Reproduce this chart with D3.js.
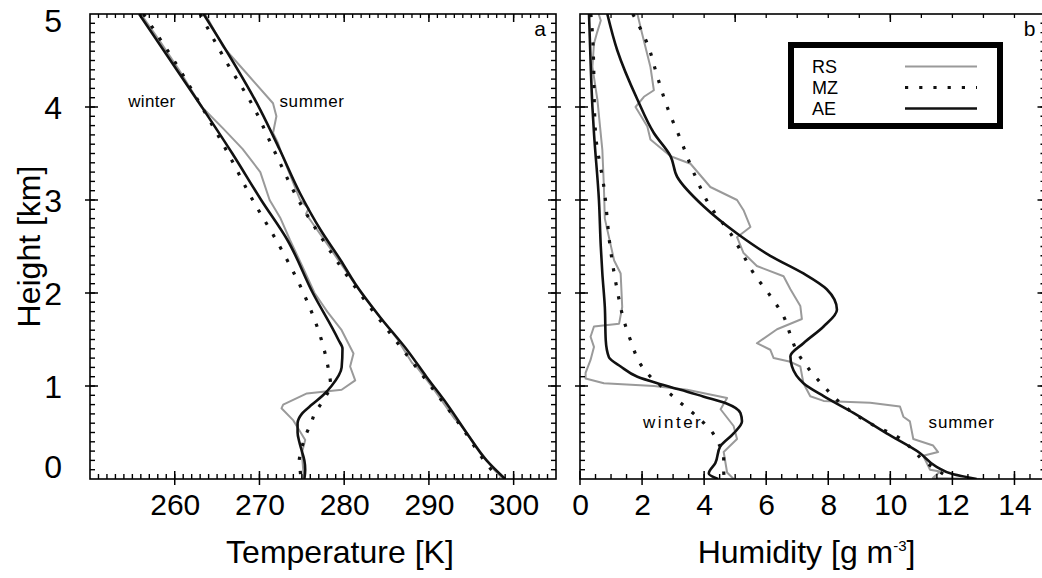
<!DOCTYPE html>
<html>
<head>
<meta charset="utf-8">
<script src="https://cdn.jsdelivr.net/npm/d3@7"></script>
<style>
  html, body { margin: 0; padding: 0; background: #fff; }
  svg { display: block; }
  text { font-family: "Liberation Sans", Arial, Helvetica, sans-serif; fill: #000; }
</style>
</head>
<body>
<svg id="chart" width="1042" height="578"></svg>
<script>
// ---------------- DATA ([value, height km]) ----------------
// Panel a: Temperature [K]
const tempWinterRS = [[256.0,5.0],[258.3,4.7],[260.5,4.4],[263.2,4.0],[265.7,3.77],[268.0,3.55],[270.1,3.3],[271.2,3.0],[272.5,2.8],[273.6,2.57],[275.0,2.3],[276.5,2.0],[278.0,1.8],[279.7,1.6],[281.1,1.35],[280.7,1.21],[281.3,1.06],[279.7,0.96],[275.6,0.92],[272.8,0.80],[272.6,0.76],[274.0,0.63],[275.4,0.42],[275.0,0.28],[275.2,0.06],[275.0,0.0]];
const tempWinterMZ = [[256.3,5.0],[260.6,4.4],[263.2,4.0],[266.3,3.5],[269.2,3.0],[272.4,2.5],[275.2,2.0],[277.3,1.5],[278.1,1.2],[278.4,1.0],[277.9,0.9],[277.2,0.8],[276.5,0.7],[276.1,0.6],[275.6,0.5],[275.2,0.4],[274.9,0.3],[274.7,0.2],[274.8,0.1],[274.9,0.0]];
const tempWinterAE = [[255.8,5.0],[259.5,4.5],[263.2,4.0],[266.8,3.5],[270.2,3.0],[273.3,2.57],[276.3,2.0],[279.3,1.5],[279.8,1.4],[279.7,1.2],[278.5,1.0],[277.5,0.9],[276.2,0.8],[275.0,0.7],[274.5,0.6],[274.5,0.5],[274.7,0.4],[275.0,0.3],[275.3,0.2],[275.4,0.1],[275.3,0.0]];
const tempSummerRS = [[263.6,5.0],[265.7,4.65],[268.5,4.36],[271.6,4.04],[272.0,3.90],[271.6,3.72],[272.2,3.61],[272.6,3.50],[274.8,3.0],[275.8,2.91],[275.5,2.85],[278.2,2.5],[282.0,2.0],[286.3,1.5],[288.0,1.25],[288.6,1.2],[290.3,1.0],[293.0,0.65],[293.6,0.6],[296.0,0.3],[297.7,0.1],[298.8,0.0]];
const tempSummerMZ = [[263.0,5.0],[266.0,4.5],[269.3,4.0],[271.9,3.5],[274.6,3.0],[278.0,2.5],[281.8,2.0],[286.0,1.5],[290.2,1.0],[294.3,0.5],[296.5,0.2],[298.3,0.0]];
const tempSummerAE = [[263.4,5.0],[270.1,3.97],[272.4,3.54],[274.8,3.07],[277.2,2.68],[279.6,2.35],[281.3,2.10],[284.2,1.745],[287.4,1.39],[289.7,1.10],[292.1,0.81],[294.5,0.49],[296.8,0.20],[299.0,0.0]];

// Panel b: Humidity [g m^-3]
const humWinterRS = [[0.60,5.0],[0.67,4.93],[0.55,4.80],[0.45,4.68],[0.40,4.43],[0.56,4.08],[0.72,3.54],[0.77,3.14],[0.80,2.8],[1.10,2.35],[1.31,2.21],[1.36,1.85],[1.26,1.67],[0.45,1.64],[0.34,1.53],[0.45,1.42],[0.34,1.28],[0.18,1.14],[0.18,1.08],[0.77,1.03],[2.38,1.0],[3.45,0.96],[4.74,0.87],[4.53,0.75],[4.95,0.57],[5.06,0.43],[4.63,0.29],[4.74,0.07],[4.95,0.0]];
const humWinterMZ = [[0.35,5.0],[0.40,4.79],[0.50,3.72],[0.77,3.14],[0.99,2.45],[1.20,2.03],[1.41,1.71],[1.63,1.49],[2.00,1.21],[2.33,1.08],[2.70,0.975],[3.13,0.85],[3.77,0.67],[4.20,0.53],[4.47,0.38],[4.63,0.24],[4.63,0.10],[4.65,0.0]];
const humWinterAE = [[0.29,5.0],[0.34,4.5],[0.40,4.0],[0.45,3.72],[0.61,3.0],[0.67,2.5],[0.72,2.21],[0.80,1.85],[0.83,1.49],[0.93,1.31],[1.31,1.21],[1.85,1.10],[2.49,1.03],[3.24,0.96],[3.99,0.885],[4.74,0.81],[5.17,0.71],[5.22,0.62],[4.95,0.49],[4.52,0.35],[4.36,0.17],[4.15,0.06],[4.45,0.0]];
const humSummerRS = [[1.85,5.0],[2.00,4.79],[2.27,4.43],[2.38,4.18],[2.06,4.11],[1.79,4.0],[2.17,3.79],[2.27,3.65],[2.92,3.47],[3.56,3.39],[4.20,3.14],[5.06,3.0],[5.27,2.89],[5.49,2.71],[5.06,2.6],[5.27,2.43],[5.70,2.29],[6.56,2.18],[6.78,2.04],[7.10,1.86],[7.15,1.72],[6.35,1.61],[5.70,1.46],[6.13,1.39],[6.24,1.30],[6.78,1.26],[7.10,1.21],[7.20,1.03],[7.42,0.89],[7.85,0.84],[9.35,0.82],[10.31,0.78],[10.42,0.67],[10.63,0.62],[10.74,0.43],[11.38,0.36],[11.54,0.29],[11.06,0.25],[11.28,0.1],[11.60,0.08],[11.37,0.01],[12.90,0.0]];
const humSummerMZ = [[1.70,5.0],[2.17,4.68],[2.49,4.33],[2.81,4.0],[3.24,3.65],[3.67,3.29],[4.20,2.93],[4.85,2.64],[5.27,2.40],[5.60,2.21],[6.13,1.97],[6.56,1.75],[6.78,1.55],[6.99,1.37],[7.31,1.21],[7.85,1.0],[8.28,0.85],[9.45,0.58],[10.20,0.46],[10.74,0.31],[11.06,0.20],[11.49,0.10],[11.81,0.03]];
const humSummerAE = [[0.88,5.0],[1.20,4.61],[1.85,4.08],[2.38,3.72],[2.92,3.47],[3.13,3.25],[3.99,2.93],[5.06,2.64],[6.13,2.40],[7.20,2.21],[7.95,2.04],[8.28,1.82],[7.85,1.64],[7.20,1.46],[6.78,1.32],[6.83,1.21],[7.20,1.03],[7.85,0.89],[8.81,0.71],[9.88,0.49],[10.95,0.28],[11.49,0.13],[12.03,0.05],[12.78,0.0]];

// Axis ticks / labels
const tempTicks = [260, 270, 280, 290, 300];
const humTicks = [0, 2, 4, 6, 8, 10, 12, 14];
const heightTicks = [0, 1, 2, 3, 4, 5];
const legendNames = ["RS", "MZ", "AE"];
const seasonLabels = ["winter", "summer"];

// ---------------- LAYOUT ----------------
const svg = d3.select("#chart");
const yTop = 14, yBottom = 479;
const y = d3.scaleLinear().domain([0, 5]).range([yBottom, yTop]);
const xT = d3.scaleLinear().domain([250, 305]).range([90, 556]);
const xH = d3.scaleLinear().domain([0, 15]).range([580, 1045.5]);

const styles = {
  RS: { stroke: "#9a9a9a", width: 2, dash: null, curve: d3.curveLinear },
  MZ: { stroke: "#111", width: 3.2, dash: "3.2 11", curve: d3.curveMonotoneY },
  AE: { stroke: "#111", width: 2.6, dash: null, curve: d3.curveMonotoneY }
};

// tick marks built from a scale: vertical ticks along a horizontal edge or vice versa
function hTicks(g, scale, values, yEdge, y1off, y2off, w) {
  g.append("g").selectAll("line").data(values).join("line")
    .attr("x1", d => scale(d)).attr("x2", d => scale(d))
    .attr("y1", yEdge + y1off).attr("y2", yEdge + y2off)
    .attr("stroke", "#000").attr("stroke-width", w);
}
function vTicks(g, scale, values, xEdge, x1off, x2off, w) {
  g.append("g").selectAll("line").data(values).join("line")
    .attr("y1", d => scale(d)).attr("y2", d => scale(d))
    .attr("x1", xEdge + x1off).attr("x2", xEdge + x2off)
    .attr("stroke", "#000").attr("stroke-width", w);
}

function drawPanel(x, series, majorX, minorX, topMajor, topMinor, letter) {
  const [x0, x1] = x.range();
  const g = svg.append("g");
  const clipId = "clip" + letter;
  svg.append("clipPath").attr("id", clipId).append("rect")
    .attr("x", x0).attr("y", yTop).attr("width", x1 - x0).attr("height", yBottom - yTop);

  // curves
  const lines = g.append("g").attr("clip-path", `url(#${clipId})`);
  series.forEach(([data, type]) => {
    const s = styles[type];
    const line = d3.line().x(d => x(d[0])).y(d => y(d[1])).curve(s.curve);
    lines.append("path").datum(data)
      .attr("d", line)
      .attr("fill", "none")
      .attr("stroke", s.stroke)
      .attr("stroke-width", s.width)
      .attr("stroke-dasharray", s.dash)
      .attr("stroke-linejoin", "round");
  });

  // frame
  g.append("rect").attr("x", x0).attr("y", yTop).attr("width", x1 - x0).attr("height", yBottom - yTop)
    .attr("fill", "none").attr("stroke", "#000").attr("stroke-width", 1.6);

  // bottom edge ticks
  hTicks(g, x, minorX, yBottom, 0, -5, 1.4);
  hTicks(g, x, majorX, yBottom, 6, -8, 1.5);
  // top edge ticks
  hTicks(g, x, topMinor, yTop, 0, 4, 1.3);
  hTicks(g, x, topMajor, yTop, 0, 8, 1.5);
  // left / right edge ticks
  const minorY = d3.range(1, 50).map(i => i / 10);
  vTicks(g, y, minorY, x0, 0, 5, 1.4);
  vTicks(g, y, heightTicks.slice(1, 5), x0, -5, 8, 1.5);
  vTicks(g, y, minorY, x1, 0, -5, 1.4);
  vTicks(g, y, heightTicks.slice(1, 5), x1, 5, -8, 1.5);

  // bottom tick labels through the d3 axis
  g.append("g").attr("transform", `translate(0,${yBottom})`)
    .call(d3.axisBottom(x).tickValues(majorX).tickSize(0).tickPadding(15))
    .call(a => a.select(".domain").remove())
    .call(a => a.selectAll("text").attr("font-size", 30).attr("font-family", "Liberation Sans"));

  // panel letter
  g.append("text").attr("x", x1 - 16).attr("y", yTop + 22).attr("text-anchor", "middle")
    .attr("font-size", 21).text(letter);
  return g;
}

const range1 = (a, b, s) => d3.range(a, b + s / 2, s);

drawPanel(xT, [
  [tempWinterRS, "RS"], [tempSummerRS, "RS"],
  [tempWinterMZ, "MZ"], [tempSummerMZ, "MZ"],
  [tempWinterAE, "AE"], [tempSummerAE, "AE"]
], tempTicks, range1(251, 304, 1), [260, 270, 280, 290, 300], range1(251, 304, 1), "a");

drawPanel(xH, [
  [humWinterRS, "RS"], [humSummerRS, "RS"],
  [humWinterMZ, "MZ"], [humSummerMZ, "MZ"],
  [humWinterAE, "AE"], [humSummerAE, "AE"]
], humTicks, range1(0.5, 15, 0.5), [5, 10, 15], range1(1, 15, 1), "b");

// y tick labels on the left
const yLab = svg.append("g").attr("transform", "translate(90,0)")
  .call(d3.axisLeft(y).tickValues(heightTicks).tickFormat(d3.format("d")).tickSize(0).tickPadding(28))
  .call(a => a.select(".domain").remove());
yLab.selectAll("text").attr("font-size", 32).attr("font-family", "Liberation Sans")
  .attr("dy", d => d === 0 ? "-0.05em" : d === 5 ? "0.55em" : "0.35em");

// axis titles
svg.append("text").attr("x", xT(279.5)).attr("y", 563).attr("text-anchor", "middle")
  .attr("font-size", 32).text("Temperature [K]");
const hum = svg.append("text").attr("x", xH(7.3)).attr("y", 563).attr("text-anchor", "middle")
  .attr("font-size", 32);
hum.append("tspan").text("Humidity [g m");
hum.append("tspan").attr("dy", -12).attr("font-size", 15).text("-3");
hum.append("tspan").attr("dy", 12).text("]");
svg.append("text").attr("transform", `translate(40,${y(2.5)}) rotate(-90)`)
  .attr("text-anchor", "middle").attr("font-size", 32).text("Height [km]");

// season labels
svg.append("text").attr("x", xT(257.3)).attr("y", y(4.0)).attr("text-anchor", "middle")
  .attr("font-size", 17).attr("letter-spacing", 0.3).text(seasonLabels[0]);
svg.append("text").attr("x", xT(276.2)).attr("y", y(4.0)).attr("text-anchor", "middle")
  .attr("font-size", 17).attr("letter-spacing", 0.6).text(seasonLabels[1]);
svg.append("text").attr("x", xH(3.0)).attr("y", y(0.55)).attr("text-anchor", "middle")
  .attr("font-size", 17).attr("letter-spacing", 2.5).text(seasonLabels[0]);
svg.append("text").attr("x", xH(12.3)).attr("y", y(0.55)).attr("text-anchor", "middle")
  .attr("font-size", 17).attr("letter-spacing", 0.8).text(seasonLabels[1]);

// legend
const leg = svg.append("g");
leg.append("rect").attr("x", 791).attr("y", 45).attr("width", 209).attr("height", 81)
  .attr("fill", "#fff").attr("stroke", "#000").attr("stroke-width", 6);
legendNames.forEach((name, i) => {
  const yy = 66.5 + i * 21;
  const s = styles[name];
  leg.append("text").attr("x", 812).attr("y", yy + 6.5).attr("font-size", 18)
    .attr("fill", name === "RS" ? "#9a9a9a" : "#000").text(name);
  leg.append("line").attr("x1", 905).attr("x2", 977).attr("y1", yy).attr("y2", yy)
    .attr("stroke", s.stroke).attr("stroke-width", s.width).attr("stroke-dasharray", s.dash);
});
</script>
</body>
</html>
